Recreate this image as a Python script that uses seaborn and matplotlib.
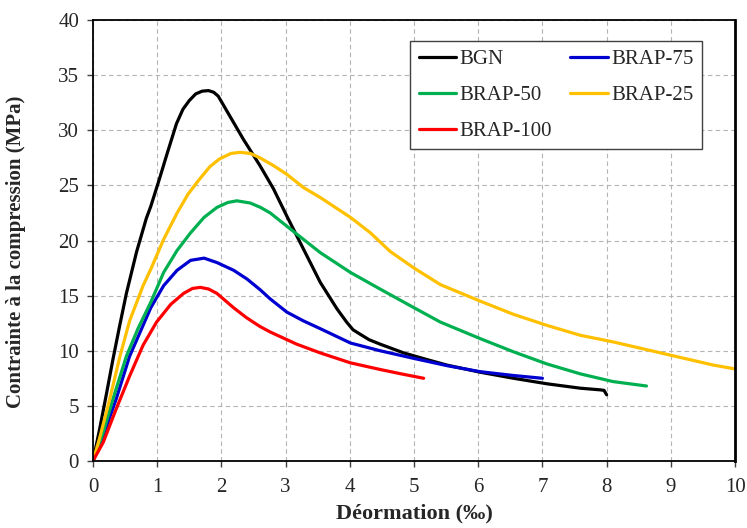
import matplotlib
matplotlib.use("Agg")
import matplotlib.pyplot as plt
import seaborn as sns
import pandas as pd

# ---- data ----
bgn_x = [0, 0.10, 0.21, 0.31, 0.42, 0.52, 0.68, 0.83, 0.90, 1.03, 1.15, 1.30, 1.40, 1.50, 1.60, 1.70,
         1.80, 1.88, 1.95, 2.05, 2.20, 2.34, 2.60, 2.81, 3.02, 3.28, 3.54, 3.80, 3.95, 4.05, 4.16,
         4.30, 4.47, 4.84, 5.20, 5.51, 6.03, 6.55, 7.07, 7.59, 7.90, 7.96, 8.0]
bgn_y = [0, 2.8, 6.1, 9.2, 12.4, 15.2, 19.0, 22.0, 23.1, 25.5, 27.8, 30.6, 31.9, 32.7, 33.3, 33.55,
         33.6, 33.45, 33.1, 32.1, 30.6, 29.2, 26.8, 24.7, 22.2, 19.2, 16.2, 13.8, 12.6, 11.9, 11.5,
         11.0, 10.6, 9.8, 9.2, 8.7, 8.05, 7.5, 7.0, 6.6, 6.45, 6.4, 6.0]

b75_x = [0, 0.16, 0.36, 0.57, 0.78, 0.90, 1.10, 1.31, 1.52, 1.73, 1.93, 2.19, 2.40, 2.61, 2.76,
         3.02, 3.28, 3.54, 4.01, 4.47, 5.0, 5.51, 6.03, 6.55, 7.0]
b75_y = [0, 2.3, 5.6, 9.5, 12.3, 13.9, 15.9, 17.3, 18.2, 18.4, 18.0, 17.3, 16.5, 15.5, 14.7,
         13.5, 12.7, 12.0, 10.7, 10.0, 9.3, 8.65, 8.1, 7.75, 7.5]

b50_x = [0, 0.16, 0.31, 0.52, 0.70, 0.90, 1.10, 1.31, 1.52, 1.73, 1.93, 2.10, 2.24, 2.45, 2.61,
         2.76, 3.17, 3.54, 4.01, 4.47, 5.0, 5.41, 6.03, 6.55, 7.07, 7.59, 8.10, 8.62]
b50_y = [0, 2.6, 5.6, 9.5, 12.0, 14.4, 17.1, 19.1, 20.7, 22.1, 23.0, 23.45, 23.6, 23.4, 23.0,
         22.5, 20.6, 18.9, 17.1, 15.6, 13.9, 12.6, 11.1, 9.9, 8.8, 7.9, 7.2, 6.8]

b25_x = [0, 0.10, 0.26, 0.42, 0.57, 0.78, 0.90, 1.10, 1.31, 1.48, 1.65, 1.82, 1.97, 2.15, 2.29,
         2.45, 2.60, 2.81, 3.02, 3.28, 3.54, 4.01, 4.32, 4.63, 5.0, 5.41, 6.03, 6.55, 7.07, 7.59,
         8.10, 8.62, 9.14, 9.66, 10.0]
b25_y = [0, 2.0, 5.6, 9.5, 12.7, 15.9, 17.4, 20.1, 22.5, 24.2, 25.5, 26.7, 27.4, 27.9, 28.0,
         27.9, 27.5, 26.8, 26.0, 24.8, 23.9, 22.1, 20.7, 19.0, 17.5, 16.0, 14.5, 13.3, 12.3, 11.4,
         10.8, 10.1, 9.4, 8.7, 8.35]

b100_x = [0, 0.16, 0.36, 0.57, 0.78, 0.99, 1.21, 1.41, 1.55, 1.67, 1.80, 1.93, 2.19, 2.39, 2.60,
          2.76, 3.17, 3.54, 4.01, 4.47, 4.80, 5.15]
b100_y = [0, 1.7, 4.7, 7.7, 10.5, 12.6, 14.2, 15.2, 15.65, 15.75, 15.6, 15.2, 13.9, 13.0, 12.2,
          11.7, 10.6, 9.8, 8.9, 8.3, 7.9, 7.5]

series_names = ["BGN", "BRAP-75", "BRAP-50", "BRAP-25", "BRAP-100"]
series_x = [bgn_x, b75_x, b50_x, b25_x, b100_x]
series_y = [bgn_y, b75_y, b50_y, b25_y, b100_y]
colors = ["#000000", "#0000D0", "#00B050", "#FFC000", "#FF0000"]

x_ticks = list(range(0, 11))
y_ticks = list(range(0, 41, 5))
x_label = "Déormation (‰)"
y_label = "Contrainte à la compression (MPa)"

frames = []
for name, xs, ys in zip(series_names, series_x, series_y):
    frames.append(pd.DataFrame({"x": xs, "y": ys, "series": name}))
df = pd.concat(frames, ignore_index=True)

sns.set_style("white")
plt.rcParams["font.family"] = ["Liberation Serif", "DejaVu Serif"]

fig = plt.figure(figsize=(7.47, 5.28), dpi=100)
ax = fig.add_axes([0.1245, 0.127, 0.8595, 0.835])

sns.lineplot(data=df, x="x", y="y", hue="series", hue_order=series_names,
             palette=dict(zip(series_names, colors)), sort=False, estimator=None,
             linewidth=2.3, ax=ax)

ax.set_xlim(0, 10)
ax.set_ylim(0, 40)
ax.set_xticks(x_ticks)
ax.set_yticks(y_ticks)
ax.tick_params(axis="both", labelsize=15, direction="out", length=4, width=1,
               color="#404040", pad=6, left=True, bottom=True)
ax.tick_params(axis="x", pad=8)
ax.grid(True, color="#b4b4b4", linestyle=(0, (4, 3)), linewidth=0.8)
ax.set_axisbelow(True)
for sp in ax.spines.values():
    sp.set_color("black")
    sp.set_linewidth(1.3)
ax.spines["right"].set_linewidth(2.0)

ax.set_xlabel(x_label, fontsize=16, fontweight="bold", labelpad=5)
ax.set_ylabel(y_label, fontsize=15, fontweight="bold")
ax.yaxis.set_label_coords(-0.105, 0.475)

handles, labels = ax.get_legend_handles_labels()
hmap = dict(zip(labels, handles))
order = ["BGN", "BRAP-50", "BRAP-100", "BRAP-75", "BRAP-25"]
leg = ax.legend([hmap[k] for k in order], order, ncol=2, loc="upper left",
                bbox_to_anchor=(0.494, 0.952), borderaxespad=0, fontsize=15, frameon=True,
                fancybox=False, edgecolor="#404040", framealpha=1, handlelength=1.8,
                handletextpad=0.15, columnspacing=0.9, labelspacing=0.78, borderpad=0.4)
leg.get_frame().set_linewidth(1.0)
for line in leg.get_lines():
    line.set_linewidth(2.3)

fig.savefig("out.png", dpi=100)
